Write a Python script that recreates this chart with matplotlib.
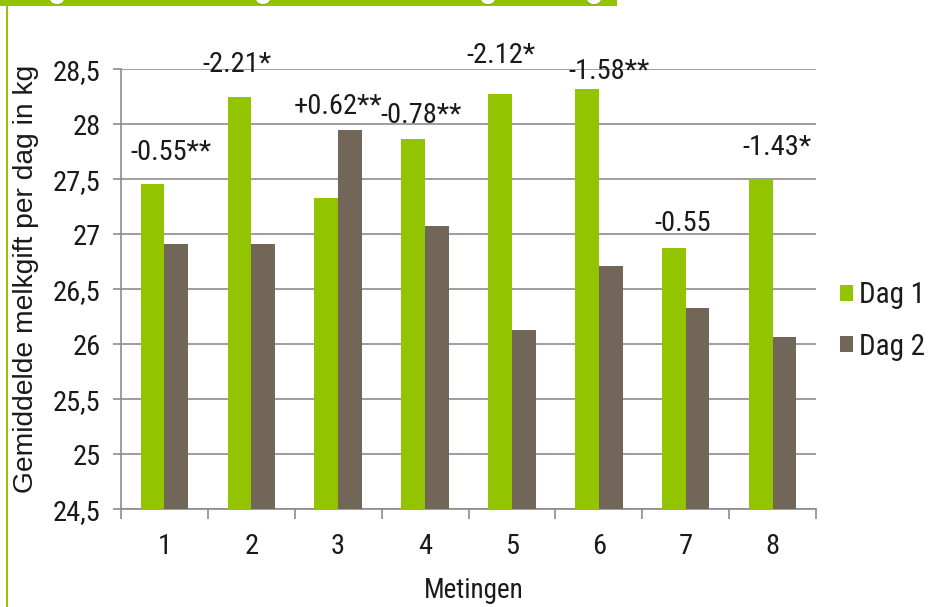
import matplotlib
matplotlib.use("Agg")
import matplotlib.pyplot as plt
import numpy as np
from matplotlib.patches import Rectangle, Ellipse

# ---- data ----
categories = ["1", "2", "3", "4", "5", "6", "7", "8"]
dag1 = [27.46, 28.25, 27.33, 27.87, 28.28, 28.32, 26.88, 27.50]
dag2 = [26.91, 26.91, 27.95, 27.08, 26.13, 26.71, 26.33, 26.07]
diff_labels = ["-0.55**", "-2.21*", "+0.62**", "-0.78**", "-2.12*", "-1.58**", "-0.55", "-1.43*"]
series_names = ["Dag 1", "Dag 2"]
y_ticks = [24.5, 25, 25.5, 26, 26.5, 27, 27.5, 28, 28.5]
y_ticklabels = ["24,5", "25", "25,5", "26", "26,5", "27", "27,5", "28", "28,5"]

# label placement (manual, as in the original)
label_dx = [0.075, -0.167, 0.0, -0.05, -0.13, 0.12, -0.03, 0.05]
label_y = [27.74, 28.54, 28.16, 28.08, 28.63, 28.48, 27.10, 27.79]

GREEN = "#93C400"
GREY = "#716658"
GRID = "#8C8C8C"
TXT = "#1a1a1a"

NARROW = ["Liberation Sans Narrow", "Roboto Condensed", "Archivo Narrow", "Liberation Sans", "DejaVu Sans"]
plt.rcParams["font.family"] = NARROW

W, H = 941, 607
fig = plt.figure(figsize=(W / 100, H / 100), dpi=100)
fig.patch.set_facecolor("white")

ax = fig.add_axes([121 / W, (H - 509.3) / H, (816 - 121) / W, (509.3 - 69.3) / H])

x = np.arange(len(categories))
bw = 0.273
ax.bar(x - bw / 2, dag1, width=bw, color=GREEN, label=series_names[0], zorder=3)
ax.bar(x + bw / 2, dag2, width=bw, color=GREY, label=series_names[1], zorder=3)

ax.set_ylim(24.5, 28.5)
ax.set_xlim(-0.5, len(categories) - 0.5)

ax.set_yticks(y_ticks)
ax.set_yticklabels(y_ticklabels, fontsize=20.5, color=TXT)
ax.yaxis.grid(True, color=GRID, linewidth=1.2, zorder=0)
ax.set_axisbelow(True)

ax.set_xticks(x)
ax.set_xticklabels(categories, fontsize=20.5, color=TXT)
ax.set_xticks(np.arange(-0.5, len(categories)), minor=True)
ax.tick_params(axis="x", which="major", length=0, pad=17)
ax.tick_params(axis="x", which="minor", length=7.5, width=1.2, color=GRID, direction="out")
ax.tick_params(axis="y", which="major", length=5.8, width=1.2, color=GRID, direction="out", pad=9)

for s in ["top", "right"]:
    ax.spines[s].set_visible(False)
for s in ["left", "bottom"]:
    ax.spines[s].set_color(GRID)
    ax.spines[s].set_linewidth(1.2)

for xi, dx, ly, t in zip(x, label_dx, label_y, diff_labels):
    ax.text(xi + dx, ly, t, ha="center", va="center", fontsize=20.5, color=TXT, zorder=5)

ax.set_xlabel("Metingen", fontsize=19.5, color=TXT)
ax.xaxis.set_label_coords((474 - 121) / 695, (509.3 - 591) / 440)
ax.xaxis.label.set_va("center")

ax.set_ylabel("Gemiddelde melkgift per dag in kg", fontsize=20.3, color=TXT,
              family=["Liberation Sans", "DejaVu Sans"])
ax.yaxis.set_label_coords((26 - 121) / 695, (509.3 - 278.5) / 440)
ax.yaxis.label.set_va("center")

leg = ax.legend(loc="center left", bbox_to_anchor=(840 / W, (H - 321) / H),
                bbox_transform=fig.transFigure, frameon=False, fontsize=21,
                handlelength=0.435, handleheight=0.466, handletextpad=0.2,
                labelspacing=0.8, borderpad=0, borderaxespad=0)
for t in leg.get_texts():
    t.set_color(TXT)

# decorative green frame (top band with notches, left line)
fig.patches.append(Rectangle((0, (H - 6) / H), 617 / W, 6 / H, transform=fig.transFigure,
                             facecolor=GREEN, edgecolor="none", zorder=10))
fig.patches.append(Rectangle((5.8 / W, 0), 2.4 / W, (H - 6) / H, transform=fig.transFigure,
                             facecolor=GREEN, edgecolor="none", zorder=10))
for cx in [57, 263, 488, 594]:
    fig.patches.append(Ellipse((cx / W, (H + 1) / H), 15 / W, 11 / H, transform=fig.transFigure,
                               facecolor="white", edgecolor="#7fa800", linewidth=0.6, zorder=11))

fig.savefig("out.png", dpi=100, facecolor="white")
